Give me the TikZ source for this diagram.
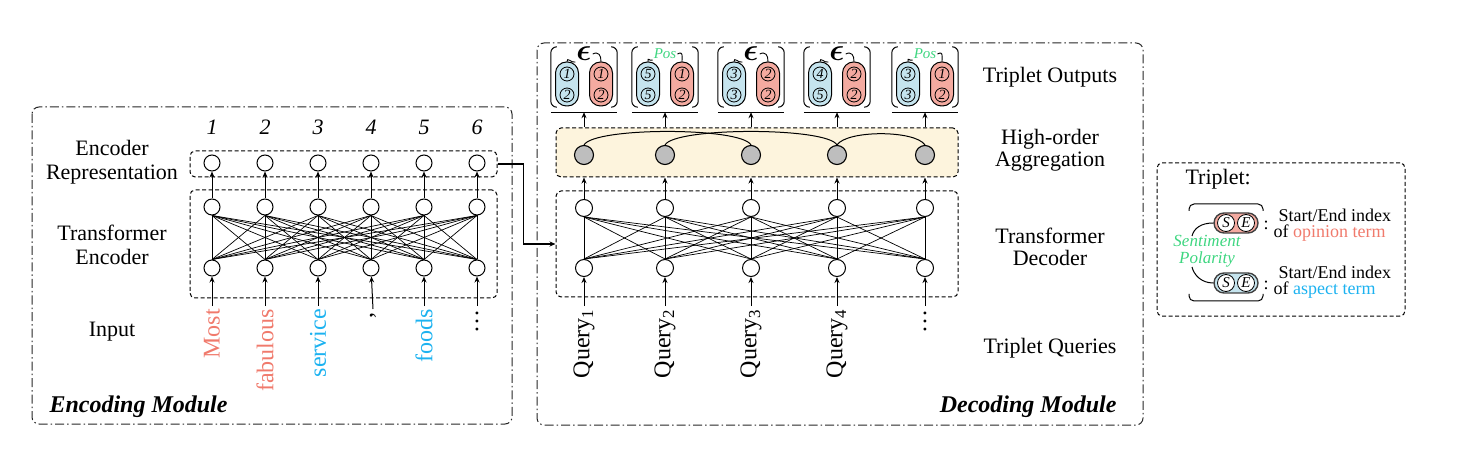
\documentclass[tikz,border=0pt]{standalone}
\usepackage{fontspec}
\setmainfont{Liberation Serif}
\usetikzlibrary{arrows.meta,positioning,calc}

\definecolor{opred}{RGB}{240,122,108}
\definecolor{ascyan}{RGB}{28,178,240}
\definecolor{polgreen}{RGB}{62,214,128}
\definecolor{pillred}{RGB}{244,170,160}
\definecolor{pillblue}{RGB}{197,228,238}
\definecolor{aggyellow}{RGB}{253,244,221}
\definecolor{nodegray}{RGB}{190,190,190}

\newcommand{\polnone}{\fontsize{20}{20}\selectfont\scalebox{1.5}{\boldmath$\epsilon$}}
\newcommand{\polpos}{\fontsize{15}{15}\selectfont\itshape\color{polgreen}Pos}

\begin{document}
\begin{tikzpicture}[x=1pt,y=-1pt]
\tikzstyle{module}=[draw=black!85, dash pattern=on 9pt off 3pt on 1.5pt off 3pt, rounded corners=7pt, line width=1pt]
\tikzstyle{group}=[draw, dash pattern=on 4pt off 2.5pt, rounded corners=5pt, line width=1pt, inner sep=0pt]
\tikzstyle{neuron}=[circle, draw, fill=white, minimum size=16pt, inner sep=0pt, line width=1pt]
\tikzstyle{aggnode}=[circle, draw, fill=nodegray, minimum size=19pt, inner sep=0pt, line width=1.1pt]
\tikzstyle{sidetext}=[font=\fontsize{22}{24.5}\selectfont, align=center]
\tikzstyle{word}=[font=\fontsize{24}{26}\selectfont, rotate=90, anchor=east, inner sep=3pt]
\tikzstyle{uparrow}=[-{Stealth[length=6pt,width=5pt]}, line width=1pt]
\tikzstyle{wire}=[line width=0.7pt]
\tikzstyle{idx}=[circle, draw, minimum size=14pt, inner sep=0pt, font=\fontsize{14}{14}\selectfont\itshape, line width=0.8pt]
\tikzstyle{pill}=[draw, rounded corners=11pt, minimum width=23pt, minimum height=44pt, inner sep=0pt, line width=1pt]
\tikzstyle{legpill}=[draw=black!75, rounded corners=10pt, minimum width=44pt, minimum height=20pt, inner sep=0pt, line width=1.4pt]
\tikzstyle{legidx}=[circle, draw, fill=white, minimum size=17pt, inner sep=0pt, font=\fontsize{15}{15}\selectfont\itshape, line width=0.8pt]
\tikzstyle{legtext}=[anchor=west, align=left, font=\fontsize{18}{16.5}\selectfont]

\useasboundingbox (0,0) rectangle (1464,454);

%%%%%%%%%%%%%%%%%%%%%%%%%%%%%%
%%%%% MODULOS
\draw[module] (32,107) rectangle (512,424);
\draw[module] (537,43) rectangle (1143,425);

%%%%%%%%%%%%%%%%%%%%%%%%%%%%%%
%%%%% ENCODER
\node[group, minimum width=307pt, minimum height=26pt] (encrep) at (343.5,164) {};
\node[group, minimum width=307pt, minimum height=108pt] (enctf) at (343.5,244) {};

\foreach \i/\x in {1/212,2/265,3/318,4/371,5/424,6/477}{
  \node[sidetext, font=\fontsize{22}{25}\selectfont\itshape] (pos_\i) at (\x,127) {\i};
  \node[neuron] (e_\i) at (\x,163) {};
  \node[neuron] (h_\i) at (\x,207) {};
  \node[neuron] (l_\i) at (\x,268) {};
}

%%%%% CONEXIONES
\foreach \i in {1,...,6}{
  \foreach \j in {1,...,6}{
    \draw[wire] (l_\i.north) -- (h_\j.south);
  }
  \draw[uparrow] (h_\i) -- (e_\i);
}

%%%%% ENTRADA
\node[word, text=opred] (w_1) at (212,306) {Most};
\node[word, text=opred] (w_2) at (265,306) {fabulous};
\node[word, text=ascyan] (w_3) at (318,306) {service};
\node[word] (w_4) at (373,309) {,};
\node[word, text=ascyan] (w_5) at (424,306) {foods};
\node[word] (w_6) at (477,306) {\dots};
\foreach \i in {1,...,6} \draw[uparrow] (w_\i.east) -- (l_\i);

\node[sidetext] (encrep_l) at (112,162) {Encoder\\Representation};
\node[sidetext] (enctf_l) at (112,245) {Transformer\\Encoder};
\node[sidetext] (input_l) at (112,332) {Input};
\node[font=\fontsize{24}{26}\selectfont\bfseries\itshape, anchor=west] (encmod_l) at (46,407) {Encoding Module};

%%%%%%%%%%%%%%%%%%%%%%%%%%%%%%
%%%%% DECODER
\node[group, fill=aggyellow, minimum width=402pt, minimum height=49pt] (agg) at (757,152.5) {};
\node[group, minimum width=402pt, minimum height=106pt] (dectf) at (757,244) {};

\draw[uparrow, line width=1.3pt] (encrep.east) -- ++(26,0) |- (dectf.west);

\foreach \i/\x in {1/584,2/665,3/751,4/837,5/925}{
  \node[aggnode] (a_\i) at (\x,155) {};
  \node[neuron, minimum size=17pt] (dh_\i) at (\x,208) {};
  \node[neuron, minimum size=17pt] (dl_\i) at (\x,268) {};
}
\foreach \i in {1,...,5}{
  \foreach \j in {1,...,5}{
    \draw[wire] (dl_\i.north) -- (dh_\j.south);
  }
  \draw[uparrow] (dh_\i) -- (dh_\i |- agg.south);
}

%%%%% AGREGACION
\draw[line width=1pt] (a_1.north) .. controls +(10,-18) and +(-10,-18) .. (a_3.north);
\draw[line width=1pt] (a_2.north) .. controls +(10,-18) and +(-10,-18) .. (a_4.north);
\draw[line width=1pt] (a_4.north) .. controls +(10,-15) and +(-10,-15) .. (a_5.north);

%%%%% CONSULTAS
\foreach \i/\x in {1/584,2/665,3/751,4/837}{
  \node[word] (q_\i) at (\x,306) {Query\textsubscript{\i}};
}
\node[word] (q_5) at (925,306) {\dots};
\foreach \i in {1,...,5} \draw[uparrow] (q_\i.east) -- (dl_\i);

%%%%% SALIDAS
\foreach \i/\x/\ba/\bb/\ra/\rb/\pol in {1/584/1/2/1/2/\polnone, 2/665/5/5/1/2/\polpos, 3/751/3/3/2/2/\polnone, 4/837/4/5/2/2/\polnone, 5/925/3/3/1/2/\polpos}{
  \node[minimum width=66pt, minimum height=60pt, inner sep=0pt] (o_\i) at (\x,77) {};
  \draw[rounded corners=6pt, line width=1pt] ([xshift=5pt]o_\i.north west) -- (o_\i.north west) -- (o_\i.south west) -- ([xshift=5pt]o_\i.south west);
  \draw[rounded corners=6pt, line width=1pt] ([xshift=-5pt]o_\i.north east) -- (o_\i.north east) -- (o_\i.south east) -- ([xshift=-5pt]o_\i.south east);
  \draw[line width=1pt] ([yshift=-5pt]o_\i.south west) -- ([yshift=-5pt]o_\i.south east);
  \coordinate (ul_\i) at ([yshift=-5pt]o_\i.south);
  \node[pill, fill=pillblue] (bp_\i) at (\x-17,84) {};
  \node[pill, fill=pillred] (rp_\i) at (\x+17,84) {};
  \node[idx] (b1_\i) at (\x-17,74) {\ba};
  \node[idx] (b2_\i) at (\x-17,95) {\bb};
  \node[idx] (r1_\i) at (\x+17,74) {\ra};
  \node[idx] (r2_\i) at (\x+17,95) {\rb};
  \node[inner sep=1pt] (p_\i) at (\x,54) {\pol};
  \draw[line width=0.9pt] (p_\i.south west) .. controls +(-4,1) and +(0,-5) .. (bp_\i.north);
  \draw[line width=0.9pt] (p_\i.east) .. controls +(6,-3) and +(0,-6) .. (rp_\i.north);
  \draw[uparrow] (a_\i |- agg.north) -- (ul_\i);
}

\node[sidetext, font=\fontsize{22}{22}\selectfont] (out_l) at (1050,77) {Triplet Outputs};
\node[sidetext, font=\fontsize{22}{22}\selectfont] (agg_l) at (1050,150) {High-order\\Aggregation};
\node[sidetext, font=\fontsize{22}{22}\selectfont] (dectf_l) at (1050,247) {Transformer\\Decoder};
\node[sidetext, font=\fontsize{22}{22}\selectfont] (query_l) at (1050,348) {Triplet Queries};
\node[font=\fontsize{24}{26}\selectfont\bfseries\itshape, anchor=east] (decmod_l) at (1120,407) {Decoding Module};

%%%%%%%%%%%%%%%%%%%%%%%%%%%%%%
%%%%% LEYENDA
\node[group, minimum width=248pt, minimum height=153pt] (legend) at (1281,239.5) {};
\node[anchor=west, font=\fontsize{22}{24}\selectfont] (legtitle) at (1182,179) {Triplet:};

\draw[rounded corners=5pt, line width=1pt] (1189,211) -- (1189,204) -- (1263,204) -- (1263,211);
\draw[rounded corners=5pt, line width=1pt] (1189,294) -- (1189,301) -- (1263,301) -- (1263,294);

\node[legpill, fill=pillred] (legop) at (1236,223) {};
\node[legidx] (legop_s) at (1226,223) {S};
\node[legidx] (legop_e) at (1246,223) {E};
\node[font=\fontsize{18}{18}\selectfont] (legop_c) at (1266,225) {:};
\node[legtext] (legop_t) at (1270,225) {\hspace*{5pt}Start/End index\\of \textcolor{opred}{opinion term}};

\node[legpill, fill=pillblue] (legas) at (1236,283) {};
\node[legidx] (legas_s) at (1226,283) {S};
\node[legidx] (legas_e) at (1246,283) {E};
\node[font=\fontsize{18}{18}\selectfont] (legas_c) at (1266,285) {:};
\node[legtext] (legas_t) at (1270,282) {\hspace*{5pt}Start/End index\\of \textcolor{ascyan}{aspect term}};

\node[font=\fontsize{17}{16.5}\selectfont\itshape, text=polgreen, align=center, inner sep=1pt] (polarity) at (1207,251) {Sentiment\\Polarity};
\coordinate (polup) at (1192,236);
\coordinate (poldown) at (1192,267);
\draw[line width=1pt] (legop.west) .. controls +(-12,0) and +(2,-8) .. (polup);
\draw[line width=1pt] (poldown) .. controls +(2,8) and +(-12,0) .. (legas.west);

\end{tikzpicture}
\end{document}
